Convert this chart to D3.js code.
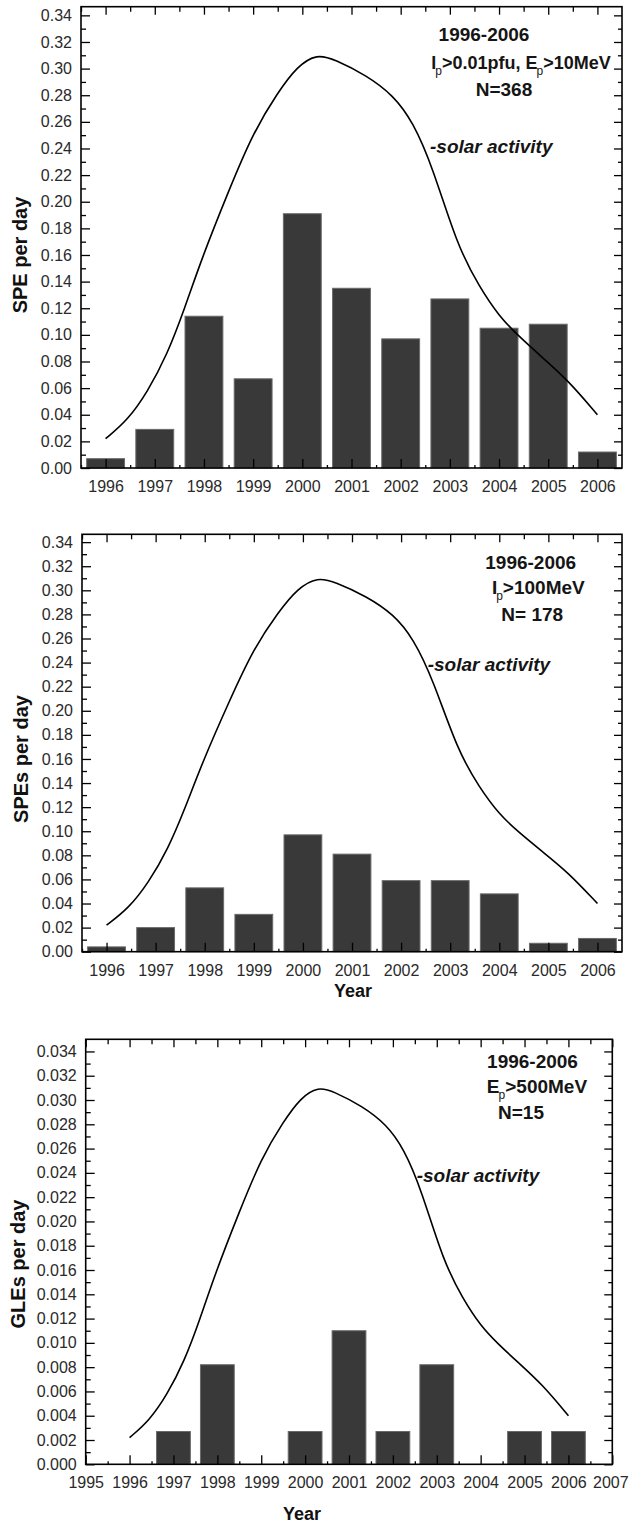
<!DOCTYPE html>
<html>
<head>
<meta charset="utf-8">
<script src="https://cdn.jsdelivr.net/npm/d3@7"></script>
<style>
	body { margin: 0; background: #fff; }
	svg { display: block; font-family: "Liberation Sans", Arial, sans-serif; }
</style>
</head>
<body>
<svg id="chart" width="629" height="1523"></svg>
<script>
// yearly event rates (events per day)
var years = [1996, 1997, 1998, 1999, 2000, 2001, 2002, 2003, 2004, 2005, 2006];
var speRate = [0.007, 0.029, 0.114, 0.067, 0.191, 0.135, 0.097, 0.127, 0.105, 0.108, 0.012];
var spe100Rate = [0.004, 0.020, 0.053, 0.031, 0.097, 0.081, 0.059, 0.059, 0.048, 0.007, 0.011];
var gleRate = [0, 0.0027, 0.0082, 0, 0.0027, 0.011, 0.0027, 0.0082, 0, 0.0027, 0.0027];

// solar activity curve (scaled to the axis)
var solarYears = [1996.0, 1996.45, 1996.85, 1997.25, 1997.6, 1997.95, 1998.5, 1999.0, 1999.5, 1999.9,
	2000.3, 2000.65, 2001.3, 2001.85, 2002.25, 2002.65, 2003.15, 2003.6, 2004.0, 2004.4, 2004.85, 2005.4, 2006.0];
var solarActivity = [0.022, 0.036, 0.057, 0.085, 0.119, 0.157, 0.208, 0.252, 0.282, 0.302,
	0.311, 0.307, 0.295, 0.280, 0.260, 0.226, 0.167, 0.136, 0.114, 0.099, 0.084, 0.066, 0.040];
var solarActivityGle = [0.0022, 0.0036, 0.0057, 0.0085, 0.0119, 0.0157, 0.0208, 0.0252, 0.0282, 0.0302,
	0.0311, 0.0307, 0.0295, 0.0280, 0.0260, 0.0226, 0.0167, 0.0136, 0.0114, 0.0099, 0.0084, 0.0066, 0.0040];

// axis ticks
var yTicksSpe = [0, 0.02, 0.04, 0.06, 0.08, 0.10, 0.12, 0.14, 0.16, 0.18, 0.20, 0.22, 0.24, 0.26, 0.28, 0.30, 0.32, 0.34];
var yTicksGle = [0, 0.002, 0.004, 0.006, 0.008, 0.010, 0.012, 0.014, 0.016, 0.018, 0.020, 0.022, 0.024, 0.026, 0.028, 0.030, 0.032, 0.034];
var xTicksGle = [1995, 1996, 1997, 1998, 1999, 2000, 2001, 2002, 2003, 2004, 2005, 2006, 2007];

document.addEventListener("DOMContentLoaded", init);

function init() {
	var svg = d3.select("#chart");

	var panels = [
		{
			left: 81, top: 6.7, width: 541, height: 461.3,
			xDomain: [1995.5, 2006.5], yDomain: [0, 0.3465],
			xTicks: years, yTicks: yTicksSpe, yMinorStep: 0.01, yFmt: ".2f",
			values: speRate, curve: solarActivity,
			yTitle: "SPE per day", yTitlePos: [27, 255],
			xTitle: null,
			notes: [
				{x: 403, y: 34.3, anchor: "middle", parts: [["1996-2006"]]},
				{x: 440, y: 62.3, anchor: "middle", size: 18, parts: [["I"], ["p", 1], [">0.01pfu, E"], ["p", 1], [">10MeV"]]},
				{x: 423, y: 89.3, anchor: "middle", parts: [["N=368"]]},
				{x: 349, y: 146, anchor: "start", italic: true, parts: [["-solar activity"]]}
			]
		},
		{
			left: 82, top: 534.3, width: 540, height: 417.4,
			xDomain: [1995.5, 2006.5], yDomain: [0, 0.3465],
			xTicks: years, yTicks: yTicksSpe, yMinorStep: 0.01, yFmt: ".2f",
			values: spe100Rate, curve: solarActivity,
			yTitle: "SPEs per day", yTitlePos: [28, 759],
			xTitle: "Year", xTitlePos: [353, 997],
			notes: [
				{x: 448.7, y: 35, anchor: "middle", parts: [["1996-2006"]]},
				{x: 456.3, y: 59.7, anchor: "middle", parts: [["I"], ["p", 1], [">100MeV"]]},
				{x: 450.2, y: 86.7, anchor: "middle", parts: [["N= 178"]]},
				{x: 345.7, y: 136.7, anchor: "start", italic: true, parts: [["-solar activity"]]}
			]
		},
		{
			left: 85.7, top: 1039.3, width: 526.6, height: 425,
			xDomain: [1995, 2007], yDomain: [0, 0.035],
			xTicks: xTicksGle, yTicks: yTicksGle, yMinorStep: 0.001, yFmt: ".3f",
			values: gleRate, curve: solarActivityGle,
			yTitle: "GLEs  per  day", yTitlePos: [25, 1264],
			xTitle: "Year", xTitlePos: [302, 1520],
			notes: [
				{x: 446.8, y: 28.4, anchor: "middle", parts: [["1996-2006"]]},
				{x: 451.3, y: 53.7, anchor: "middle", parts: [["E"], ["p", 1], [">500MeV"]]},
				{x: 435.3, y: 79.7, anchor: "middle", parts: [["N=15"]]},
				{x: 331, y: 142.4, anchor: "start", italic: true, parts: [["-solar activity"]]}
			]
		}
	];

	panels.forEach(p => drawPanel(svg, p));
}

function drawPanel(svg, p) {
	var g = svg.append("g")
	           .attr("transform", "translate(" + p.left + "," + p.top + ")");

	var x = d3.scaleLinear().domain(p.xDomain).range([0, p.width]);
	var y = d3.scaleLinear().domain(p.yDomain).range([p.height, 0]);
	var half = 0.385; // half bar width in years

	var barData = years.map((yr, i) => ({year: yr, v: p.values[i]}))
	                   .filter(d => d.v > 0);

	g.selectAll(".bar")
	 .data(barData)
	 .enter()
	 .append("rect")
	 .classed("bar", true)
	 .attr("x", d => x(d.year - half))
	 .attr("width", d => x(d.year + half) - x(d.year - half))
	 .attr("y", d => y(d.v))
	 .attr("height", d => y(0) - y(d.v))
	 .style("fill", "#393939")
	 .style("stroke", "#6a6a6a")
	 .style("stroke-width", 1);

	var line = d3.line()
	             .x(d => x(d[0]))
	             .y(d => y(d[1]))
	             .curve(d3.curveBasis);

	g.append("path")
	 .datum(solarYears.map((yr, i) => [yr, p.curve[i]]))
	 .attr("d", line)
	 .style("fill", "none")
	 .style("stroke", "#000")
	 .style("stroke-width", 1.6);

	// ticks, all pointing inward
	var xHalf = p.xTicks.map(t => t + 0.5).filter(t => t < p.xDomain[1]);
	if (p.xDomain[0] % 1 != 0) xHalf.unshift(p.xDomain[0]);
	var yMinor = d3.range(p.yMinorStep, p.yDomain[1], p.yMinorStep * 2);
	var fmt = d3.format(p.yFmt);

	function clean(sel) {
		sel.attr("font-size", null).attr("font-family", null);
		sel.select(".domain").remove();
		sel.selectAll("line").style("stroke", "#000").style("stroke-width", 1.3);
		sel.selectAll("text").style("font-size", "16px").style("fill", "#2a2a2a");
	}

	g.append("g")
	 .call(d3.axisLeft(y).tickValues(p.yTicks).tickFormat(fmt).tickSize(-9).tickPadding(9))
	 .call(clean);
	g.append("g")
	 .call(d3.axisLeft(y).tickValues(yMinor).tickFormat("").tickSize(-5))
	 .call(clean);
	g.append("g")
	 .attr("transform", "translate(" + p.width + ",0)")
	 .call(d3.axisRight(y).tickValues(p.yTicks).tickFormat("").tickSize(-8))
	 .call(clean);
	g.append("g")
	 .attr("transform", "translate(" + p.width + ",0)")
	 .call(d3.axisRight(y).tickValues(yMinor).tickFormat("").tickSize(-4))
	 .call(clean);
	var xAxis = g.append("g")
	 .attr("transform", "translate(0," + p.height + ")")
	 .call(d3.axisBottom(x).tickValues(p.xTicks).tickFormat(d3.format("d")).tickSize(-9).tickPadding(12.5))
	 .call(clean);
	// keep the last label inside the picture
	xAxis.selectAll("text").filter(d => d == 2007).attr("dx", -2);
	g.append("g")
	 .attr("transform", "translate(0," + p.height + ")")
	 .call(d3.axisBottom(x).tickValues(xHalf).tickFormat("").tickSize(-3))
	 .call(clean);
	g.append("g")
	 .call(d3.axisTop(x).tickValues(p.xTicks).tickFormat("").tickSize(-8))
	 .call(clean);
	g.append("g")
	 .call(d3.axisTop(x).tickValues(xHalf).tickFormat("").tickSize(-5))
	 .call(clean);

	g.append("rect")
	 .attr("width", p.width)
	 .attr("height", p.height)
	 .style("fill", "none")
	 .style("stroke", "#000")
	 .style("stroke-width", 1.6);

	// annotations
	p.notes.forEach(n => {
		var t = g.append("text")
		         .attr("x", n.x)
		         .attr("y", n.y)
		         .attr("text-anchor", n.anchor)
		         .style("font-size", (n.size || 19) + "px")
		         .style("font-weight", "bold")
		         .style("font-style", n.italic ? "italic" : "normal")
		         .style("fill", "#151515");
		var shifted = false;
		n.parts.forEach(part => {
			var ts = t.append("tspan").text(part[0]);
			if (part[1]) {
				ts.attr("dy", 6).attr("dx", -1).style("font-size", "12px").style("font-weight", "normal");
				shifted = true;
			} else if (shifted) {
				ts.attr("dy", -6);
				shifted = false;
			}
		});
	});

	svg.append("text")
	   .attr("transform", "translate(" + p.yTitlePos[0] + "," + p.yTitlePos[1] + ") rotate(-90)")
	   .attr("text-anchor", "middle")
	   .style("font-size", "20px")
	   .style("font-weight", "bold")
	   .style("fill", "#111")
	   .text(p.yTitle);

	if (p.xTitle) {
		svg.append("text")
		   .attr("x", p.xTitlePos[0])
		   .attr("y", p.xTitlePos[1])
		   .attr("text-anchor", "middle")
		   .style("font-size", "18px")
		   .style("font-weight", "bold")
		   .style("fill", "#111")
		   .text(p.xTitle);
	}
}
</script>
</body>
</html>
